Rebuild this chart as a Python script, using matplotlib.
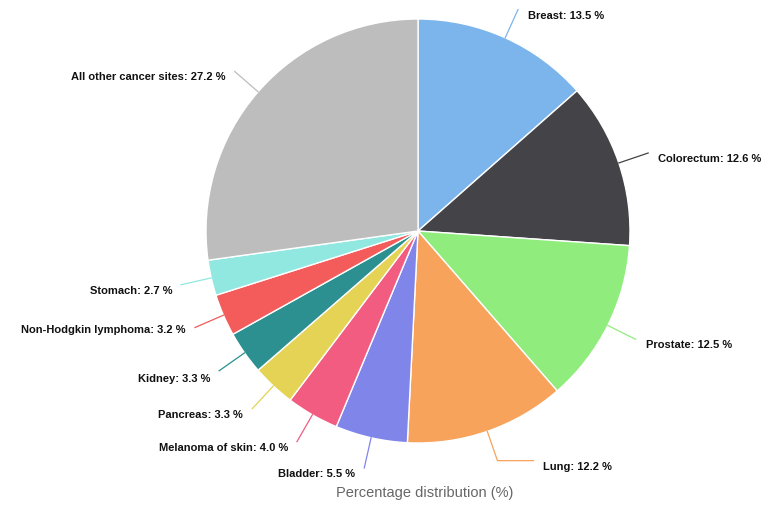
import numpy as np
import matplotlib
matplotlib.use("Agg")
import matplotlib.pyplot as plt

# DATA
sites = ["Breast", "Colorectum", "Prostate", "Lung", "Bladder", "Melanoma of skin",
         "Pancreas", "Kidney", "Non-Hodgkin lymphoma", "Stomach", "All other cancer sites"]
shares = [13.5, 12.6, 12.5, 12.2, 5.5, 4.0, 3.3, 3.3, 3.2, 2.7, 27.2]
colors = ["#7cb5ec", "#434348", "#90ed7d", "#f7a35c", "#8085e9", "#f15c80",
          "#e4d354", "#2b908f", "#f45b5b", "#91e8e1", "#bdbdbd"]

plt.rcParams['font.family'] = ['Liberation Sans', 'DejaVu Sans']

W, H = 769, 506
fig = plt.figure(figsize=(W / 100, H / 100), dpi=100)
ax = fig.add_axes([0, 0, 1, 1])

cx, cy, r = 418, H - 232, 212
wedges, _ = ax.pie(shares, colors=colors, startangle=90, counterclock=False,
                   center=(cx, cy), radius=r, frame=True,
                   wedgeprops=dict(edgecolor='white', linewidth=1))
ax.set_xlim(0, W)
ax.set_ylim(0, H)
ax.set_aspect('equal')
ax.axis('off')

# extra nudges for a few labels (layout only)
label_dx = {"Lung": 36}
label_dy = {"Non-Hodgkin lymphoma": 4, "Kidney": -2}

for w, name, val, col in zip(wedges, sites, shares, colors):
    ang = np.deg2rad((w.theta1 + w.theta2) / 2)
    x0, y0 = cx + r * np.cos(ang), cy + r * np.sin(ang)
    x1, y1 = cx + (r + 31) * np.cos(ang), cy + (r + 31) * np.sin(ang)
    right = np.cos(ang) >= 0
    dx = label_dx.get(name, 0)
    x2 = x1 + dx
    ax.plot([x0, x1, x2], [y0, y1, y1], color=col, lw=0.9, clip_on=False)
    tx = x2 + (10 if right else -9)
    ax.text(tx, y1 - 5 + label_dy.get(name, 0), f"{name}: {val:.1f} %",
            ha='left' if right else 'right', va='center', fontsize=8,
            fontweight='bold', color='#111111')

ax.text(425, H - 493, "Percentage distribution (%)", ha='center', va='center',
        fontsize=10.5, color='#666666')

fig.savefig("out.png", dpi=100)
